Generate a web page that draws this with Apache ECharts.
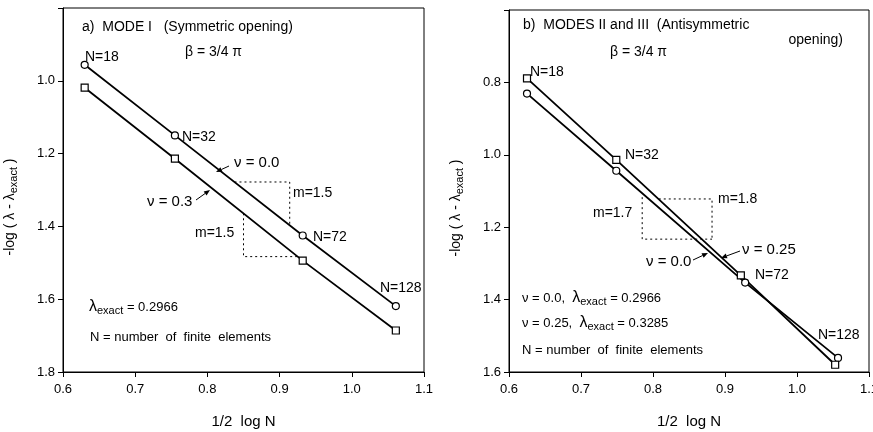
<!DOCTYPE html>
<html>
<head>
<meta charset="utf-8">
<script src="https://cdn.jsdelivr.net/npm/echarts@6/dist/echarts.min.js"></script>
<style>
  html, body { margin: 0; padding: 0; background: #fff; }
  #chart { width: 873px; height: 432px; }
</style>
</head>
<body>
<div id="chart"></div>
<script>
  // x = 1/2 log N for N = 18, 32, 72, 128
  const nLabels = ['N=18', 'N=32', 'N=72', 'N=128'];

  // panel a) MODE I
  const xA = [0.630, 0.755, 0.932, 1.061];
  const aNu00 = [0.956, 1.150, 1.425, 1.619];   // circles, nu = 0.0
  const aNu03 = [1.019, 1.214, 1.494, 1.686];   // squares, nu = 0.3

  // panel b) MODES II and III
  const xBci = [0.625, 0.749, 0.928, 1.057];
  const bNu00 = [0.831, 1.044, 1.353, 1.561];   // circles, nu = 0.0
  const xBsq = [0.625, 0.749, 0.922, 1.053];
  const bNu25 = [0.789, 1.014, 1.333, 1.580];   // squares, nu = 0.25

  // slope triangles (dashed)
  const aSlopeUp = [[0.8375, 1.278], [0.914, 1.278], [0.914, 1.397]];
  const aSlopeLo = [[0.850, 1.364], [0.850, 1.483], [0.925, 1.483]];
  const bSlopeUp = [[0.808, 1.122], [0.882, 1.122], [0.882, 1.233]];
  const bSlopeLo = [[0.785, 1.117], [0.785, 1.233], [0.882, 1.233]];

  const FONT = 'Liberation Sans';
  const pairs = (xs, ys) => xs.map((x, i) => [x, ys[i]]);

  function xAxisOf(gi) {
    return {
      type: 'value', gridIndex: gi, min: 0.6, max: 1.1, interval: 0.1,
      name: '1/2  log N', nameLocation: 'middle', nameGap: 42,
      nameTextStyle: { color: '#000', fontSize: 15, fontFamily: FONT },
      axisLine: { show: true, lineStyle: { color: '#000', width: 1 } },
      axisTick: { show: true, length: 5, lineStyle: { color: '#000' } },
      axisLabel: { color: '#000', fontSize: 13, fontFamily: FONT, margin: 11,
        formatter: v => v.toFixed(1) },
      splitLine: { show: false }
    };
  }

  function yAxisOf(gi, min, max) {
    return {
      type: 'value', gridIndex: gi, min: min, max: max, interval: 0.2, inverse: true,
      name: '{m|-log ( λ - λ}{s|exact}{m| )}', nameLocation: 'middle', nameGap: 44,
      nameTextStyle: { color: '#000', fontFamily: FONT, padding: [0, 34, 0, 0],
        rich: {
          m: { fontSize: 14, fontFamily: FONT, color: '#000' },
          s: { fontSize: 11, fontFamily: FONT, color: '#000', padding: [6, 0, 0, 0] }
        } },
      axisLine: { show: true, lineStyle: { color: '#000', width: 1 } },
      axisTick: { show: true, length: 5, lineStyle: { color: '#000' } },
      axisLabel: { color: '#000', fontSize: 13, fontFamily: FONT, margin: 8,
        formatter: v => (Math.abs(v - min) < 1e-6 ? '' : v.toFixed(1)) },
      splitLine: { show: false }
    };
  }

  function dataSeries(gi, data, symbol) {
    return {
      type: 'line', xAxisIndex: gi, yAxisIndex: gi, data: data,
      symbol: symbol, symbolSize: 7, showAllSymbol: true,
      lineStyle: { color: '#000', width: 1.8 },
      itemStyle: { color: '#fff', borderColor: '#000', borderWidth: 1.2 },
      z: 3, silent: true
    };
  }

  function dashSeries(gi, data) {
    return {
      type: 'line', xAxisIndex: gi, yAxisIndex: gi, data: data,
      symbol: 'none', lineStyle: { color: '#000', width: 1, type: [2, 3] },
      z: 2, silent: true
    };
  }

  function txt(x, y, text, size, align) {
    return {
      type: 'text', x: x, y: y, silent: true,
      style: {
        text: text, fill: '#000', fontSize: size || 14, fontFamily: FONT,
        align: align || 'left', verticalAlign: 'middle',
        rich: {
          l: { fontSize: 16, fontFamily: FONT, color: '#000' },
          s: { fontSize: 11, fontFamily: FONT, color: '#000', padding: [7, 0, 0, 0] },
          t: { fontSize: 13, fontFamily: FONT, color: '#000' }
        }
      }
    };
  }

  function arrow(x1, y1, x2, y2) {
    const a = Math.atan2(y2 - y1, x2 - x1), h = 6, w = 2.5;
    const bx = x2 - h * Math.cos(a), by = y2 - h * Math.sin(a);
    return [
      { type: 'line', silent: true, shape: { x1: x1, y1: y1, x2: bx, y2: by },
        style: { stroke: '#000', lineWidth: 1 } },
      { type: 'polygon', silent: true,
        shape: { points: [[x2, y2],
          [bx + w * Math.sin(a), by - w * Math.cos(a)],
          [bx - w * Math.sin(a), by + w * Math.cos(a)]] },
        style: { fill: '#000' } }
    ];
  }

  const graphics = [
    // panel a
    txt(82, 27, 'a)  MODE I   (Symmetric opening)', 14),
    txt(185, 52, 'β = 3/4 π', 14),
    txt(85, 57, nLabels[0]),
    txt(182, 137, nLabels[1]),
    txt(234, 163, 'ν = 0.0', 15),
    txt(293, 193, 'm=1.5'),
    txt(147, 202, 'ν = 0.3', 15),
    txt(195, 233, 'm=1.5'),
    txt(313, 237, nLabels[2]),
    txt(380, 288, nLabels[3]),
    txt(89, 307, '{l|λ}{s|exact}{t| = 0.2966}'),
    txt(90, 337, 'N = number  of  finite  elements', 13),
    // panel b
    txt(523, 25, 'b)  MODES II and III  (Antisymmetric', 14),
    txt(843, 40, 'opening)', 14, 'right'),
    txt(610, 52, 'β = 3/4 π', 14),
    txt(530, 72, nLabels[0]),
    txt(625, 155, nLabels[1]),
    txt(718, 199, 'm=1.8'),
    txt(593, 213, 'm=1.7'),
    txt(646, 262, 'ν = 0.0', 15),
    txt(742, 250, 'ν = 0.25', 15),
    txt(755, 275, nLabels[2]),
    txt(818, 335, nLabels[3]),
    txt(522, 298, '{t|ν = 0.0,  }{l|λ}{s|exact}{t| = 0.2966}'),
    txt(522, 323, '{t|ν = 0.25,  }{l|λ}{s|exact}{t| = 0.3285}'),
    txt(522, 350, 'N = number  of  finite  elements', 13)
  ].concat(
    arrow(229, 166, 216, 172),
    arrow(196, 200, 210, 190),
    arrow(693, 260, 708, 253),
    arrow(740, 251, 721, 258)
  );

  const chart = echarts.init(document.getElementById('chart'), null, { renderer: 'canvas' });
  chart.setOption({
    animation: false,
    backgroundColor: '#fff',
    grid: [
      { left: 63, top: 8, width: 361, height: 364, show: true, borderColor: '#000', borderWidth: 1,
        containLabel: false, outerBoundsMode: 'none' },
      { left: 509, top: 10, width: 360, height: 362, show: true, borderColor: '#000', borderWidth: 1,
        containLabel: false, outerBoundsMode: 'none' }
    ],
    xAxis: [xAxisOf(0), xAxisOf(1)],
    yAxis: [yAxisOf(0, 0.8, 1.8), yAxisOf(1, 0.6, 1.6)],
    series: [
      dataSeries(0, pairs(xA, aNu00), 'circle'),
      dataSeries(0, pairs(xA, aNu03), 'rect'),
      dashSeries(0, aSlopeUp),
      dashSeries(0, aSlopeLo),
      dataSeries(1, pairs(xBci, bNu00), 'circle'),
      dataSeries(1, pairs(xBsq, bNu25), 'rect'),
      dashSeries(1, bSlopeUp),
      dashSeries(1, bSlopeLo)
    ],
    graphic: graphics
  });
</script>
</body>
</html>
